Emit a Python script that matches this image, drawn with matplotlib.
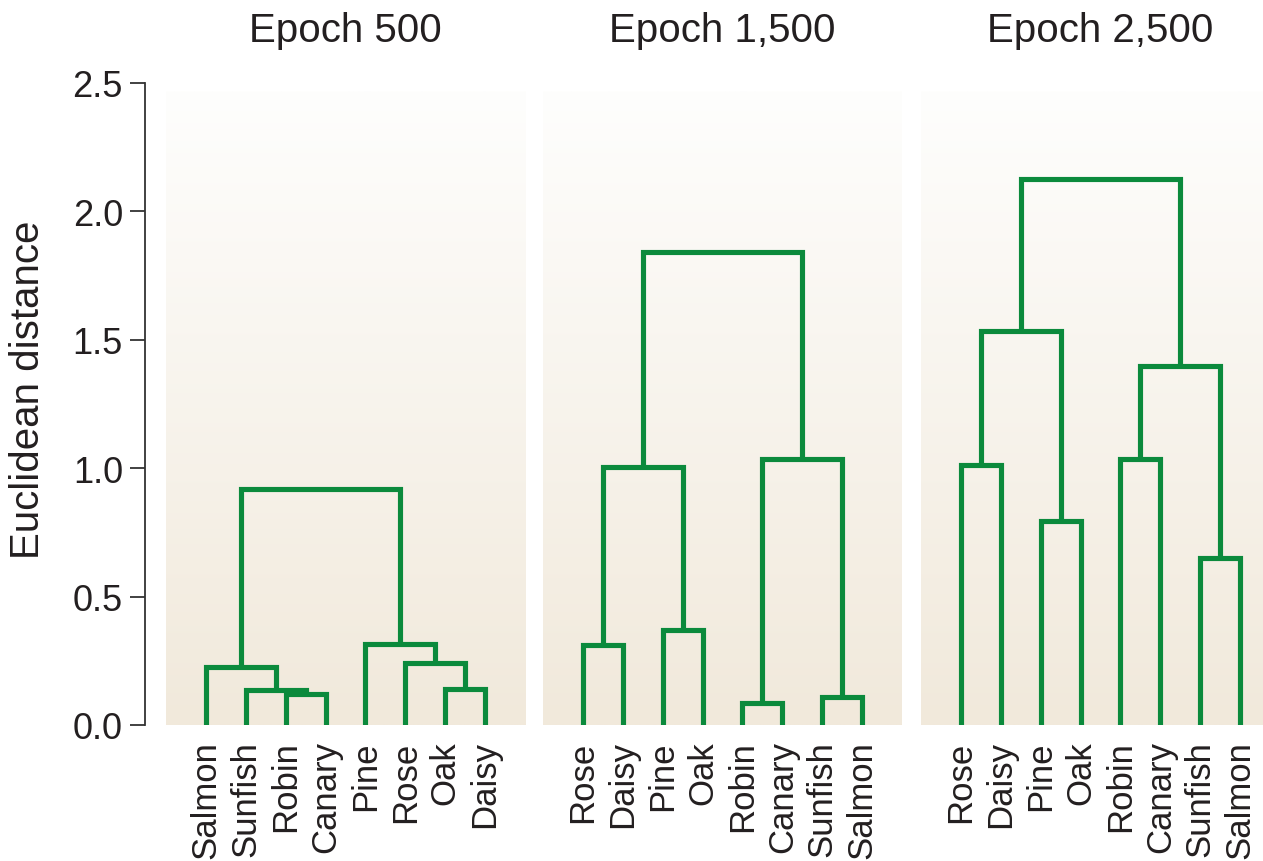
import numpy as np
import matplotlib
matplotlib.use('Agg')
import matplotlib.pyplot as plt
from matplotlib.colors import LinearSegmentedColormap

plt.rcParams['font.family'] = ['Liberation Sans', 'DejaVu Sans']

# 三个训练阶段的层次聚类结果
titles = ['Epoch 500', 'Epoch 1,500', 'Epoch 2,500']

leaves_500 = ['Salmon', 'Sunfish', 'Robin', 'Canary', 'Pine', 'Rose', 'Oak', 'Daisy']
leaves_1500 = ['Rose', 'Daisy', 'Pine', 'Oak', 'Robin', 'Canary', 'Sunfish', 'Salmon']
leaves_2500 = ['Rose', 'Daisy', 'Pine', 'Oak', 'Robin', 'Canary', 'Sunfish', 'Salmon']

# 合并: (左节点, 右节点, 距离)，新节点编号从 8 开始
merges_500 = [(2, 3, 0.12), (1, 8, 0.135), (6, 7, 0.14), (5, 10, 0.24),
              (4, 11, 0.315), (0, 9, 0.226), (13, 12, 0.92)]
merges_1500 = [(0, 1, 0.31), (2, 3, 0.37), (8, 9, 1.005), (4, 5, 0.085),
               (6, 7, 0.11), (11, 12, 1.035), (10, 13, 1.84)]
merges_2500 = [(0, 1, 1.012), (2, 3, 0.794), (8, 9, 1.534), (4, 5, 1.036),
               (6, 7, 0.652), (11, 12, 1.398), (10, 13, 2.126)]

yticks = [0, 0.5, 1.0, 1.5, 2.0, 2.5]

panels = [(leaves_500, merges_500), (leaves_1500, merges_1500), (leaves_2500, merges_2500)]

green = '#0B8A3C'
text_color = '#231F20'
bg = LinearSegmentedColormap.from_list('bg', ['#F1E9DB', '#FEFEFD'])

fig = plt.figure(figsize=(12.63, 8.62), dpi=100)
lefts = [166 / 1263, 543 / 1263, 921 / 1263]
bottom = 1 - 726 / 862
height = (726 - 84) / 862
width = 359 / 1263

for k, (leaves, merges) in enumerate(panels):
    ax = fig.add_axes([lefts[k], bottom, width, height])
    n = len(leaves)
    ax.set_xlim(-1, n)
    ax.set_ylim(0, 2.5)

    grad = np.linspace(0, 1, 256).reshape(-1, 1)
    ax.imshow(grad, cmap=bg, origin='lower', aspect='auto',
              extent=(-1, n, 0, 2.465), zorder=0)

    xs = {i: float(i) for i in range(n)}
    ys = {i: 0.0 for i in range(n)}
    for j, (a, b, h) in enumerate(merges):
        ax.plot([xs[a], xs[a], xs[b], xs[b]], [ys[a], h, h, ys[b]],
                color=green, lw=3.7, solid_joinstyle='miter',
                solid_capstyle='butt', zorder=2)
        xs[n + j] = (xs[a] + xs[b]) / 2
        ys[n + j] = h

    ax.set_xticks(range(n))
    ax.set_xticklabels(leaves, rotation=90, fontsize=25, color=text_color)
    ax.tick_params(axis='x', length=0, pad=11)
    for s in ['top', 'right', 'bottom']:
        ax.spines[s].set_visible(False)
    ax.set_title(titles[k], fontsize=29, color=text_color, pad=30)

    if k == 0:
        ax.spines['left'].set_position(('outward', 15))
        ax.spines['left'].set_color('#333333')
        ax.spines['left'].set_linewidth(1.3)
        ax.set_yticks(yticks)
        ax.set_yticklabels(['%.1f' % v for v in yticks])
        ax.tick_params(axis='y', length=11, width=1.3, color='#333333',
                       labelsize=26, labelcolor=text_color, pad=5)
    else:
        ax.spines['left'].set_visible(False)
        ax.set_yticks([])

fig.text(28 / 1263, 1 - 390 / 862, 'Euclidean distance', rotation=90,
         fontsize=29, color=text_color, ha='center', va='center')

fig.savefig('out.png', dpi=100)
